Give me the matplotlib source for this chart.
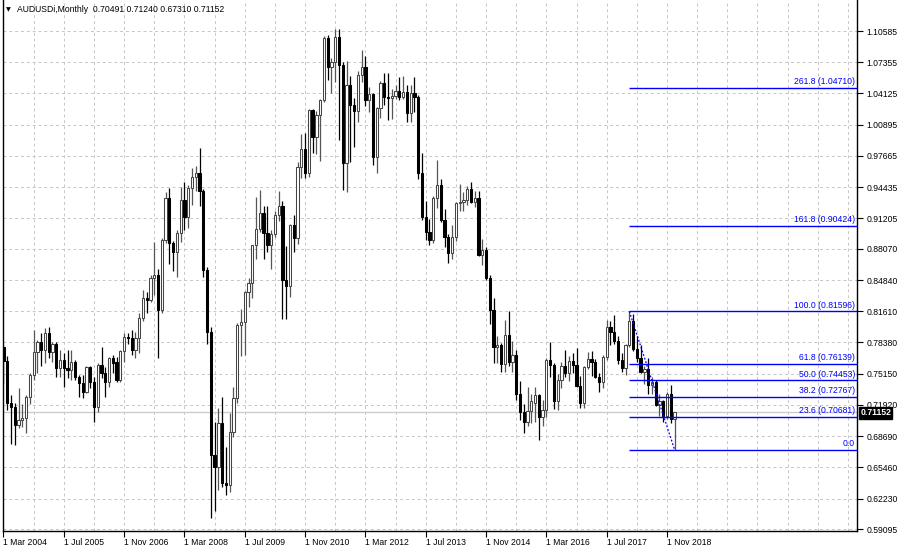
import matplotlib
matplotlib.use("Agg")
import matplotlib.pyplot as plt
import matplotlib.transforms as mtransforms

# Monthly AUDUSD bars, Mar 2004 .. Jan 2019 (one value per month)
opens = [
    0.7795, 0.7650, 0.7209, 0.7174, 0.6985, 0.7037, 0.7054, 0.7278, 0.7502, 0.7743,                  # 2004
    0.7847, 0.7760, 0.7933, 0.7743, 0.7822, 0.7571, 0.7657, 0.7578, 0.7554, 0.7640, 0.7485, 0.7416,  # 2005
    0.7330, 0.7588, 0.7433, 0.7174, 0.7605, 0.7519, 0.7433, 0.7674, 0.7640, 0.7450, 0.7753, 0.7898,  # 2006
    0.7881, 0.7760, 0.7881, 0.8088, 0.8295, 0.8277, 0.8501, 0.8533, 0.8174, 0.8898, 0.9329, 0.8863,  # 2007
    0.8777, 0.8967, 0.9312, 0.9139, 0.9432, 0.9552, 0.9587, 0.9400, 0.8587, 0.7950, 0.6677, 0.6554,  # 2008
    0.7002, 0.6382, 0.6364, 0.6916, 0.7261, 0.8019, 0.8053, 0.8364, 0.8450, 0.8846, 0.9010, 0.9173,  # 2009
    0.8970, 0.8846, 0.8960, 0.9160, 0.9250, 0.8480, 0.8420, 0.9050, 0.8920, 0.9656, 0.9840, 0.9587,  # 2010
    1.0240, 0.9966, 1.0190, 1.0345, 1.0982, 1.0690, 1.0742, 1.1000, 1.0707, 0.9690, 1.0500, 1.0293,  # 2011
    1.0230, 1.0600, 1.0690, 1.0345, 1.0410, 0.9760, 1.0260, 1.0520, 1.0380, 1.0370, 1.0385, 1.0440,  # 2012
    1.0380, 1.0430, 1.0210, 1.0420, 1.0380, 0.9590, 0.9140, 0.8984, 0.8900, 0.9329, 0.9466, 0.9104,  # 2013
    0.8932, 0.8760, 0.8932, 0.9280, 0.9295, 0.9310, 0.9430, 0.9290, 0.9330, 0.8745, 0.8795, 0.8500,  # 2014
    0.8170, 0.7795, 0.7810, 0.7620, 0.7920, 0.7640, 0.7710, 0.7310, 0.7120, 0.7020, 0.7130, 0.7209,  # 2015
    0.7290, 0.7070, 0.7140, 0.7660, 0.7610, 0.7230, 0.7450, 0.7600, 0.7520, 0.7650, 0.7610, 0.7390,  # 2016
    0.7210, 0.7580, 0.7670, 0.7640, 0.7480, 0.7430, 0.7690, 0.8000, 0.7950, 0.7850, 0.7660, 0.7570,  # 2017
    0.7810, 0.8060, 0.7770, 0.7680, 0.7530, 0.7560, 0.7400, 0.7430, 0.7190, 0.7230, 0.7080, 0.7310,  # 2018
    0.70491,                                                                                          # 2019
]
highs = [
    0.7810, 0.7700, 0.7290, 0.7210, 0.7364, 0.7200, 0.7300, 0.7519, 0.7967, 0.7864,
    0.7933, 0.7984, 0.8002, 0.7847, 0.7847, 0.7760, 0.7726, 0.7760, 0.7760, 0.7657, 0.7502, 0.7502,
    0.7595, 0.7595, 0.7485, 0.7622, 0.7795, 0.7588, 0.7691, 0.7709, 0.7691, 0.7760, 0.7933, 0.7933,
    0.7967, 0.7950, 0.8140, 0.8381, 0.8363, 0.8536, 0.8880, 0.8600, 0.8920, 0.9398, 0.9440, 0.8890,
    0.9000, 0.9450, 0.9498, 0.9470, 0.9640, 0.9660, 0.9849, 0.9430, 0.8620, 0.8000, 0.7019, 0.7157,
    0.7278, 0.6760, 0.7105, 0.7381, 0.8040, 0.8180, 0.8370, 0.8500, 0.8850, 0.9346, 0.9415, 0.9250,
    0.9250, 0.9000, 0.9200, 0.9400, 0.9300, 0.8840, 0.9060, 0.9160, 0.9700, 0.9990, 1.0000, 1.0250,
    1.0250, 1.0230, 1.0360, 1.1010, 1.1017, 1.0780, 1.1080, 1.1080, 1.0740, 1.0750, 1.0590, 1.0370,
    1.0640, 1.0860, 1.0800, 1.0480, 1.0420, 1.0270, 1.0540, 1.0620, 1.0625, 1.0460, 1.0500, 1.0580,
    1.0590, 1.0500, 1.0500, 1.0580, 1.0400, 0.9794, 0.9300, 0.9110, 0.9350, 0.9725, 0.9530, 0.9220,
    0.8960, 0.9050, 0.9290, 0.9480, 0.9390, 0.9460, 0.9500, 0.9400, 0.9400, 0.8910, 0.8830, 0.8540,
    0.8300, 0.7910, 0.7830, 0.8070, 0.8160, 0.7850, 0.7760, 0.7440, 0.7200, 0.7380, 0.7310, 0.7380,
    0.7310, 0.7240, 0.7680, 0.7840, 0.7630, 0.7510, 0.7640, 0.7760, 0.7700, 0.7730, 0.7780, 0.7490,
    0.7600, 0.7740, 0.7750, 0.7670, 0.7520, 0.7710, 0.8070, 0.8060, 0.8125, 0.7900, 0.7730, 0.7820,
    0.81596, 0.8130, 0.7900, 0.7810, 0.7600, 0.7680, 0.7480, 0.7450, 0.7310, 0.7240, 0.7330, 0.7395,
    0.71240,
]
lows = [
    0.7420, 0.7140, 0.6790, 0.6778, 0.6950, 0.6960, 0.6900, 0.7200, 0.7450, 0.7519,
    0.7590, 0.7622, 0.7674, 0.7640, 0.7485, 0.7485, 0.7381, 0.7467, 0.7450, 0.7450, 0.7278, 0.7260,
    0.7312, 0.7364, 0.7019, 0.7123, 0.7467, 0.7278, 0.7381, 0.7519, 0.7433, 0.7433, 0.7640, 0.7822,
    0.7709, 0.7674, 0.7726, 0.8057, 0.8140, 0.8260, 0.8330, 0.7674, 0.8140, 0.8870, 0.8650, 0.8580,
    0.8520, 0.8880, 0.9000, 0.9020, 0.9260, 0.9400, 0.9250, 0.8520, 0.7820, 0.6020, 0.6100, 0.6313,
    0.6347, 0.6260, 0.6296, 0.6864, 0.7210, 0.7700, 0.7710, 0.8200, 0.8300, 0.8700, 0.8980, 0.8700,
    0.8770, 0.8600, 0.8930, 0.9090, 0.8080, 0.8080, 0.8310, 0.8770, 0.8860, 0.9540, 0.9540, 0.9550,
    0.9800, 0.9790, 0.9710, 1.0320, 1.0550, 1.0420, 1.0530, 0.9932, 0.9414, 0.9398, 0.9700, 0.9860,
    1.0120, 1.0530, 1.0280, 1.0220, 0.9674, 0.9587, 1.0160, 1.0290, 1.0140, 1.0150, 1.0360, 1.0350,
    1.0360, 1.0120, 1.0120, 1.0220, 0.9530, 0.9100, 0.8898, 0.8850, 0.8870, 0.9230, 0.9080, 0.8830,
    0.8660, 0.8700, 0.8890, 0.9200, 0.9200, 0.9260, 0.9280, 0.9240, 0.8730, 0.8640, 0.8480, 0.8030,
    0.7625, 0.7630, 0.7530, 0.7530, 0.7590, 0.7530, 0.7240, 0.7037, 0.6900, 0.6970, 0.7010, 0.7020,
    0.6830, 0.6970, 0.7070, 0.7480, 0.7150, 0.7140, 0.7370, 0.7480, 0.7440, 0.7520, 0.7380, 0.7160,
    0.7160, 0.7560, 0.7490, 0.7470, 0.7330, 0.7370, 0.7660, 0.7810, 0.7820, 0.7620, 0.7530, 0.7500,
    0.7790, 0.7750, 0.7640, 0.7520, 0.7410, 0.7310, 0.7310, 0.7180, 0.7080, 0.7020, 0.7050, 0.7010,
    0.67310,
]
closes = [
    0.7650, 0.7209, 0.7174, 0.6985, 0.7037, 0.7054, 0.7278, 0.7502, 0.7743, 0.7847,
    0.7760, 0.7933, 0.7743, 0.7822, 0.7571, 0.7657, 0.7578, 0.7554, 0.7640, 0.7485, 0.7416, 0.7330,
    0.7588, 0.7433, 0.7174, 0.7605, 0.7519, 0.7433, 0.7674, 0.7622, 0.7450, 0.7753, 0.7898, 0.7881,
    0.7760, 0.7881, 0.8088, 0.8295, 0.8277, 0.8501, 0.8533, 0.8174, 0.8898, 0.9329, 0.8863, 0.8777,
    0.8967, 0.9312, 0.9139, 0.9432, 0.9552, 0.9587, 0.9400, 0.8587, 0.7950, 0.6677, 0.6554, 0.7002,
    0.6382, 0.6364, 0.6916, 0.7261, 0.8019, 0.8053, 0.8364, 0.8450, 0.8846, 0.9010, 0.9173, 0.8970,
    0.8846, 0.8960, 0.9160, 0.9250, 0.8480, 0.8420, 0.9050, 0.8920, 0.9656, 0.9840, 0.9587, 1.0240,
    0.9966, 1.0190, 1.0345, 1.0982, 1.0690, 1.0742, 1.1000, 1.0707, 0.9690, 1.0500, 1.0293, 1.0230,
    1.0600, 1.0690, 1.0345, 1.0410, 0.9760, 1.0260, 1.0520, 1.0380, 1.0370, 1.0385, 1.0440, 1.0380,
    1.0430, 1.0210, 1.0420, 1.0380, 0.9590, 0.9140, 0.8984, 0.8900, 0.9329, 0.9466, 0.9104, 0.8932,
    0.8760, 0.8932, 0.9280, 0.9295, 0.9310, 0.9430, 0.9290, 0.9330, 0.8745, 0.8795, 0.8500, 0.8170,
    0.7795, 0.7810, 0.7620, 0.7920, 0.7640, 0.7710, 0.7310, 0.7120, 0.7020, 0.7130, 0.7230, 0.7295,
    0.7070, 0.7140, 0.7660, 0.7610, 0.7230, 0.7450, 0.7600, 0.7520, 0.7650, 0.7610, 0.7390, 0.7210,
    0.7580, 0.7670, 0.7640, 0.7480, 0.7430, 0.7690, 0.8000, 0.7950, 0.7850, 0.7660, 0.7570, 0.7810,
    0.8060, 0.7770, 0.7680, 0.7530, 0.7560, 0.7400, 0.7430, 0.7190, 0.7230, 0.7080, 0.7310, 0.7050,
    0.71152,
]

# Time axis labels (every 16 months starting at 1 Mar 2004)
date_labels = ["1 Mar 2004", "1 Jul 2005", "1 Nov 2006", "1 Mar 2008", "1 Jul 2009", "1 Nov 2010",
               "1 Mar 2012", "1 Jul 2013", "1 Nov 2014", "1 Mar 2016", "1 Jul 2017", "1 Nov 2018"]

# Price scale as printed by the terminal
price_ticks = [1.10585, 1.07355, 1.04125, 1.00895, 0.97665, 0.94435, 0.91205, 0.88070,
               0.84840, 0.81610, 0.78380, 0.75150, 0.71920, 0.68690, 0.65460, 0.62230, 0.59095]
price_labels = ["1.10585", "1.07355", "1.04125", "1.00895", "0.97665", "0.94435", "0.91205", "0.88070",
                "0.84840", "0.81610", "0.78380", "0.75150", "0.71920", "0.68690", "0.65460", "0.62230", "0.59095"]

# Fibonacci retracement, Jan 2018 high -> Jan 2019 low
fib_ratios = ["261.8", "161.8", "100.0", "61.8", "50.0", "38.2", "23.6", "0.0"]
fib_prices = [1.04710, 0.90424, 0.81596, 0.76139, 0.74453, 0.72767, 0.70681, 0.67310]
fib_start_bar = 166
fib_end_bar = 178

symbol = "AUDUSDi,Monthly"
last_price = 0.71152


def main():
    plt.rcParams['font.family'] = ['Liberation Sans', 'DejaVu Sans']
    fsize = 6.2

    fig = plt.figure(figsize=(8.99, 5.51), dpi=100)
    ax = fig.add_axes([3 / 899, 20 / 551, 854 / 899, 531 / 551])
    ax.set_xlim(-0.13, 226.4)
    ax.set_ylim(0.58890, 1.13791)

    # Grid (dashed, every 8 bars / every price tick)
    for gx in range(0, 227, 8):
        ax.axvline(gx, color="#c6c6c6", lw=0.7, ls=(0, (3, 3)), zorder=0)
    for gy in price_ticks:
        ax.axhline(gy, color="#c6c6c6", lw=0.7, ls=(0, (3, 3)), zorder=0)

    # Current price line
    ax.axhline(last_price, color="#cccccc", lw=1.0, zorder=1)

    # Candles
    idx = list(range(len(closes)))
    for i in idx:
        o, h, l, c = opens[i], highs[i], lows[i], closes[i]
        if c >= o:
            ax.vlines(i, l, h, color="#555555", lw=0.9, zorder=2)
            ax.bar(i, max(c - o, 0.0004), bottom=o, width=0.6, color="white",
                   edgecolor="#454545", linewidth=0.75, zorder=3)
        else:
            ax.vlines(i, l, h, color="black", lw=0.9, zorder=2)
            ax.bar(i, o - c, bottom=c, width=0.6, color="black",
                   edgecolor="black", linewidth=0.75, zorder=3)

    # Fibonacci levels
    x_right = 226.4
    for r, p in zip(fib_ratios, fib_prices):
        ax.hlines(p, fib_start_bar, x_right, color="#0000ff", lw=1.0, zorder=4)
        label = r if r == "0.0" else "%s (%.5f)" % (r, p)
        ax.text(225.9, p + 0.0018, label, color="#0000ff", fontsize=fsize,
                ha="right", va="bottom", zorder=5)
    ax.plot([fib_start_bar, fib_end_bar], [fib_prices[2], fib_prices[-1]],
            color="#0000ff", lw=0.9, ls=(0, (1.5, 1.5)), zorder=4)

    # Axes styling
    for side in ["left", "right", "bottom"]:
        ax.spines[side].set_color("black")
        ax.spines[side].set_linewidth(1.0)
    ax.spines["top"].set_visible(False)

    ax.yaxis.tick_right()
    ax.set_yticks(price_ticks)
    ax.set_yticklabels(price_labels)
    ax.tick_params(axis="y", direction="out", length=4, width=0.8, pad=3,
                   labelsize=fsize, colors="black")

    ax.set_xticks(list(range(0, 177, 16)))
    ax.set_xticklabels(date_labels)
    ax.tick_params(axis="x", direction="out", length=4, width=0.8, pad=1,
                   labelsize=fsize, colors="black")
    for lab in ax.get_xticklabels():
        lab.set_horizontalalignment("left")

    # Last price box on the price scale
    trans = mtransforms.blended_transform_factory(ax.transAxes, ax.transData)
    ax.text(1.004, last_price - 0.0006, "%.5f" % last_price, transform=trans, color="white",
            fontsize=fsize, fontweight="bold", ha="left", va="center",
            bbox=dict(boxstyle="square,pad=0.12", fc="black", ec="black"), zorder=6, clip_on=False)

    # Header
    fig.text(6 / 899, 1 - 10 / 551, "\u25bc", fontsize=4.5, ha="left", va="center",
             family="DejaVu Sans")
    fig.text(17 / 899, 1 - 10 / 551, symbol + "  0.70491 0.71240 0.67310 0.71152",
             fontsize=fsize, ha="left", va="center")

    fig.savefig("out.png", dpi=100, facecolor="white")


if __name__ == "__main__":
    main()
